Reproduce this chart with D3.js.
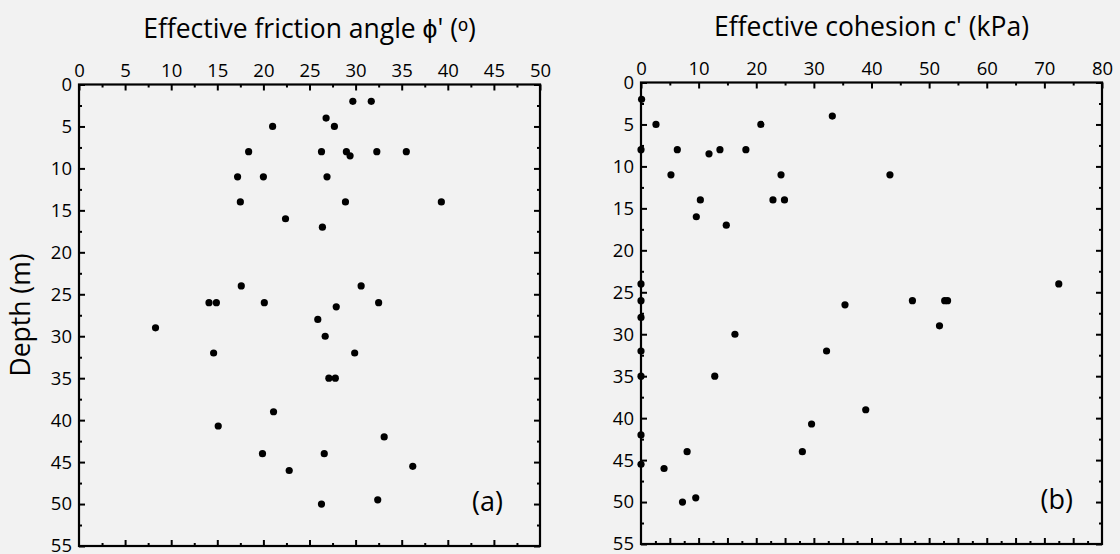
<!DOCTYPE html>
<html>
<head>
<meta charset="utf-8">
<script src="https://cdn.jsdelivr.net/npm/d3@7"></script>
<style>
  body { margin: 0; background: #f2f2f2; }
  svg text { font-family: "Open Sans", sans-serif; fill: #000; }
</style>
</head>
<body>
<div id="chart"></div>
<script>
// friction angle panel (a)
var phiValue = [29.7, 31.7, 26.8, 27.7, 21.0, 18.4, 26.3, 29.0, 29.4, 32.3, 35.5, 17.2, 20.0, 26.9, 17.5, 28.9, 39.3, 22.4, 26.4,
                17.6, 30.6, 14.1, 14.9, 20.1, 32.5, 27.9, 25.9, 8.3, 26.7, 14.6, 29.9, 27.1, 27.8,
                21.1, 15.1, 33.1, 19.9, 26.6, 36.2, 22.8, 32.4, 26.3];
var phiDepth = [2, 2, 4, 5, 5, 8, 8, 8, 8.5, 8, 8, 11, 11, 11, 14, 14, 14, 16, 17,
                24, 24, 26, 26, 26, 26, 26.5, 28, 29, 30, 32, 32, 35, 35,
                39, 40.7, 42, 44, 44, 45.5, 46, 49.5, 50];

// cohesion panel (b)
var cValue = [0.1, 2.6, 20.8, 33.2, 0, 6.3, 13.7, 18.2, 11.8, 5.2, 24.3, 43.2, 10.3, 22.9, 24.9, 9.6, 14.8,
              0, 72.5, 0, 47.1, 52.7, 53.2, 35.4, 0, 51.8, 16.3, 0, 32.2, 0, 12.8,
              39.0, 29.6, 0, 8.0, 28.0, 0, 4.0, 9.5, 7.2];
var cDepth = [2, 5, 5, 4, 8, 8, 8, 8, 8.5, 11, 11, 11, 14, 14, 14, 16, 17,
              24, 24, 26, 26, 26, 26, 26.5, 28, 29, 30, 32, 32, 35, 35,
              39, 40.7, 42, 44, 44, 45.5, 46, 49.5, 50];

var phiTicks = [0, 5, 10, 15, 20, 25, 30, 35, 40, 45, 50];
var cTicks = [0, 10, 20, 30, 40, 50, 60, 70, 80];
var depthTicks = [0, 5, 10, 15, 20, 25, 30, 35, 40, 45, 50, 55];

var svg = d3.select("#chart").append("svg")
    .attr("width", 1120).attr("height", 554);

svg.append("rect").attr("width", 1120).attr("height", 554).attr("fill", "#f2f2f2");

function range(a, b, s) {
    var out = [];
    for (var v = a; v <= b + 1e-9; v += s) out.push(+v.toFixed(2));
    return out;
}

function panel(opt) {
    var x = d3.scaleLinear().domain([0, opt.xmax]).range([opt.left, opt.right]);
    var y = d3.scaleLinear().domain([0, 55]).range([opt.top, opt.bottom]);
    var g = svg.append("g");

    // minor ticks first
    function minor(axis, vals, tr) {
        g.append("g").attr("transform", tr)
            .call(axis.tickValues(vals).tickSizeInner(-3).tickSizeOuter(0).tickFormat(""))
            .call(function (s) { s.select(".domain").remove(); })
            .selectAll("line").attr("stroke-width", 2);
    }
    minor(d3.axisTop(x), opt.topMinor, "translate(0," + opt.top + ")");
    minor(d3.axisBottom(x), opt.bottomMinor, "translate(0," + opt.bottom + ")");
    minor(d3.axisLeft(y), range(2.5, 52.5, 5), "translate(" + opt.left + ",0)");
    minor(d3.axisRight(y), range(2.5, 52.5, 5), "translate(" + opt.right + ",0)");

    // major ticks
    var top = g.append("g").attr("transform", "translate(0," + opt.top + ")")
        .call(d3.axisTop(x).tickValues(opt.xticks).tickSizeInner(-6).tickSizeOuter(0).tickPadding(8));
    var left = g.append("g").attr("transform", "translate(" + opt.left + ",0)")
        .call(d3.axisLeft(y).tickValues(depthTicks).tickSizeInner(-6).tickSizeOuter(0).tickPadding(7));
    g.append("g").attr("transform", "translate(0," + opt.bottom + ")")
        .call(d3.axisBottom(x).tickValues(opt.bottomMajor).tickSizeInner(-6).tickSizeOuter(0).tickFormat(""));
    g.append("g").attr("transform", "translate(" + opt.right + ",0)")
        .call(d3.axisRight(y).tickValues(depthTicks).tickSizeInner(-6).tickSizeOuter(0).tickFormat(""));

    g.selectAll(".domain").remove();
    g.selectAll(".tick line").attr("stroke", "#000").attr("stroke-width", 2);
    g.selectAll(".tick text").attr("font-size", 18.5).attr("font-family", "'Open Sans', sans-serif");
    top.selectAll(".tick text").attr("dy", 0);

    // frame
    g.append("rect")
        .attr("x", opt.left).attr("y", opt.top)
        .attr("width", opt.right - opt.left).attr("height", opt.bottom - opt.top)
        .attr("fill", "none").attr("stroke", "#000").attr("stroke-width", 2.2);

    // points
    g.selectAll("circle.pt")
        .data(opt.vals.map(function (v, i) { return [v, opt.depths[i]]; }))
        .enter().append("circle")
        .attr("class", "pt")
        .attr("cx", function (d) { return x(d[0]); })
        .attr("cy", function (d) { return y(d[1]); })
        .attr("r", 3.6)
        .attr("fill", "#000");

    // title
    g.append("text")
        .attr("x", (opt.left + opt.right) / 2).attr("y", opt.top - 47)
        .attr("text-anchor", "middle").attr("font-size", 26.5)
        .text(opt.title);

    // panel tag
    g.append("text")
        .attr("x", opt.right - opt.tagGap).attr("y", opt.bottom - 35)
        .attr("text-anchor", "end").attr("font-size", 27)
        .text(opt.tag);
}

panel({
    left: 79, right: 540, top: 84.5, bottom: 546, xmax: 50,
    xticks: phiTicks, topMinor: range(2.5, 47.5, 5),
    bottomMajor: range(5, 45, 5), bottomMinor: range(2.5, 47.5, 5),
    vals: phiValue, depths: phiDepth,
    title: "Effective friction angle \u03d5' (\u1d52)", tag: "(a)", tagGap: 37
});

panel({
    left: 641, right: 1102, top: 82.5, bottom: 544, xmax: 80,
    xticks: cTicks, topMinor: range(5, 75, 10),
    bottomMajor: range(5, 75, 5), bottomMinor: range(2.5, 77.5, 5),
    vals: cValue, depths: cDepth,
    title: "Effective cohesion c' (kPa)", tag: "(b)", tagGap: 29
});

// shared y label
svg.append("text")
    .attr("transform", "translate(30,315) rotate(-90)")
    .attr("text-anchor", "middle").attr("font-size", 26.5)
    .text("Depth (m)");
</script>
</body>
</html>
